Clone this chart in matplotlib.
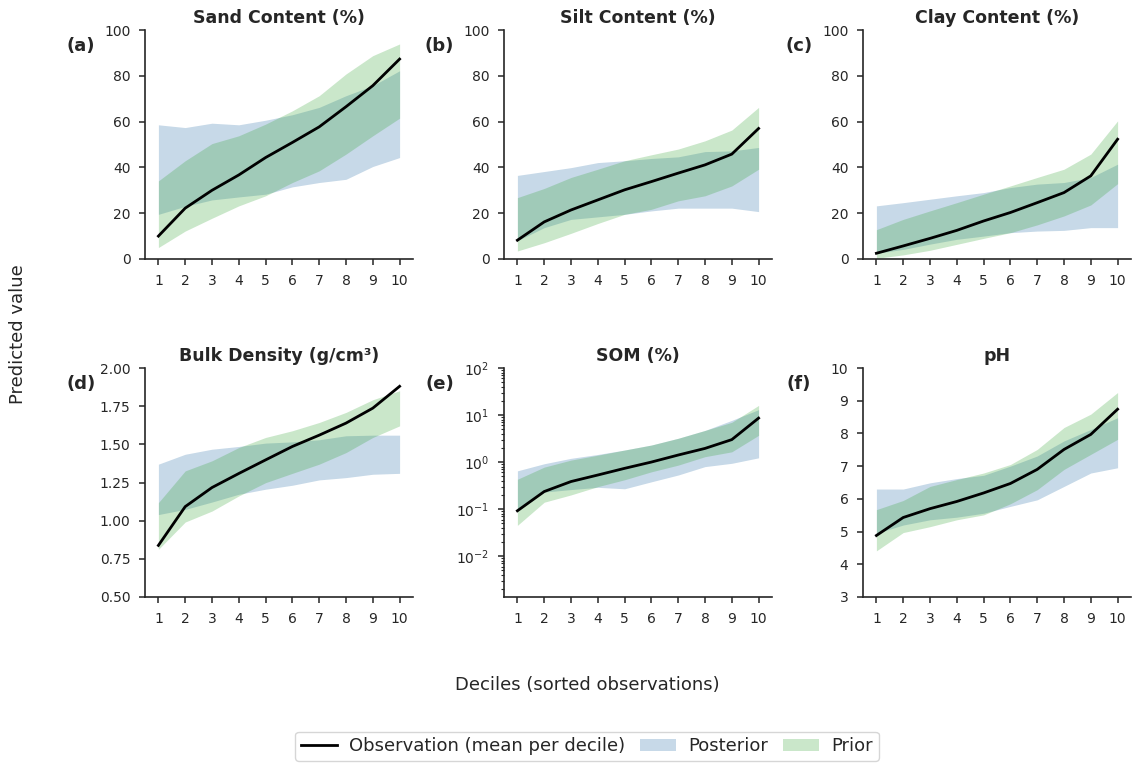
import matplotlib
matplotlib.use("Agg")
import matplotlib.pyplot as plt
from matplotlib.lines import Line2D
from matplotlib.patches import Patch
import numpy as np

deciles = list(range(1, 11))

titles = ["Sand Content (%)", "Silt Content (%)", "Clay Content (%)",
          "Bulk Density (g/cm³)", "SOM (%)", "pH"]
panel_labels = ["(a)", "(b)", "(c)", "(d)", "(e)", "(f)"]

obs_a = [10, 22.2, 30, 36.7, 44.3, 50.9, 57.7, 66.5, 75.7, 87.3]
post_a_lo = [19.5, 23, 25.8, 27.1, 28.3, 31.5, 33.4, 34.8, 40.4, 44.3]
post_a_hi = [58.6, 57.4, 59.3, 58.6, 60.6, 63, 66.2, 71.3, 75.7, 82.2]
prior_a_lo = [5, 12.2, 17.8, 23.2, 27.6, 33.4, 38.5, 45.8, 53.8, 61.5]
prior_a_hi = [34.1, 42.9, 50.4, 53.8, 58.9, 64.7, 71.3, 80.8, 88.8, 93.9]

obs_b = [8.2, 16.2, 21.4, 25.8, 30.2, 33.8, 37.5, 41.1, 45.8, 57]
post_b_lo = [8, 13.7, 17.3, 18.4, 19.5, 21, 22.2, 22.2, 22.2, 20.7]
post_b_hi = [36.5, 38.2, 39.9, 42.1, 42.9, 43.9, 44.6, 46.9, 47.2, 48.7]
prior_b_lo = [3.5, 7.1, 11.2, 15.5, 19.5, 21.7, 25.4, 27.6, 31.9, 39.2]
prior_b_hi = [26.8, 30.8, 35.6, 39.2, 42.9, 45.5, 48, 51.6, 56.3, 66.2]

obs_c = [2.5, 5.7, 9, 12.5, 16.6, 20.3, 24.6, 29, 36.3, 52.3]
post_c_lo = [2.5, 4.2, 6.5, 8.6, 10, 11.5, 12.2, 12.5, 13.7, 13.7]
post_c_hi = [23.2, 24.6, 26.1, 27.6, 29, 31.2, 32.7, 33.4, 35.6, 41.4]
prior_c_lo = [0.3, 1.8, 3.8, 6.4, 9, 11.5, 14.9, 18.8, 23.6, 32.9]
prior_c_hi = [12.8, 17.3, 21, 24.6, 28.3, 31.9, 35.6, 39.2, 45.8, 60.3]

obs_d = [0.838, 1.092, 1.217, 1.309, 1.398, 1.486, 1.56, 1.639, 1.737, 1.88]
post_d_lo = [1.04, 1.074, 1.122, 1.173, 1.206, 1.232, 1.267, 1.282, 1.304, 1.31]
post_d_hi = [1.37, 1.435, 1.468, 1.486, 1.508, 1.516, 1.53, 1.556, 1.56, 1.56]
prior_d_lo = [0.812, 0.991, 1.063, 1.162, 1.249, 1.31, 1.37, 1.446, 1.545, 1.621]
prior_d_hi = [1.118, 1.326, 1.392, 1.479, 1.545, 1.589, 1.643, 1.709, 1.792, 1.851]

obs_e = [0.092, 0.236, 0.385, 0.53, 0.735, 1.0, 1.41, 1.95, 3.0, 8.6]
post_e_lo = [0.09, 0.23, 0.26, 0.29, 0.27, 0.38, 0.53, 0.8, 0.94, 1.23]
post_e_hi = [0.65, 0.92, 1.2, 1.45, 1.8, 2.3, 3.2, 4.7, 7.7, 13]
prior_e_lo = [0.045, 0.14, 0.2, 0.30, 0.42, 0.62, 0.86, 1.3, 1.65, 3.7]
prior_e_hi = [0.43, 0.78, 1.1, 1.4, 1.8, 2.3, 3.2, 4.7, 7, 16]

obs_f = [4.88, 5.43, 5.7, 5.92, 6.18, 6.47, 6.9, 7.51, 7.97, 8.74]
post_f_lo = [4.95, 5.2, 5.36, 5.44, 5.56, 5.77, 5.97, 6.38, 6.79, 6.95]
post_f_hi = [6.3, 6.3, 6.49, 6.62, 6.72, 7.0, 7.31, 7.77, 8.12, 8.48]
prior_f_lo = [4.41, 4.97, 5.15, 5.36, 5.51, 5.85, 6.28, 6.9, 7.36, 7.82]
prior_f_hi = [5.67, 5.95, 6.38, 6.59, 6.79, 7.05, 7.51, 8.18, 8.59, 9.25]

panels = [
    (obs_a, post_a_lo, post_a_hi, prior_a_lo, prior_a_hi),
    (obs_b, post_b_lo, post_b_hi, prior_b_lo, prior_b_hi),
    (obs_c, post_c_lo, post_c_hi, prior_c_lo, prior_c_hi),
    (obs_d, post_d_lo, post_d_hi, prior_d_lo, prior_d_hi),
    (obs_e, post_e_lo, post_e_hi, prior_e_lo, prior_e_hi),
    (obs_f, post_f_lo, post_f_hi, prior_f_lo, prior_f_hi),
]

post_color = "steelblue"
post_alpha = 0.3
prior_color = "tab:green"
prior_alpha = 0.25
text_color = "#262626"

plt.rcParams.update({
    "font.family": "DejaVu Sans",
    "text.color": text_color,
    "axes.labelcolor": text_color,
    "xtick.color": text_color,
    "ytick.color": text_color,
    "axes.edgecolor": text_color,
})

W, H = 1133, 763
fig = plt.figure(figsize=(W / 100, H / 100), dpi=100)

lefts = [145, 504, 863]
tops = [30, 368]
aw, ah = 268, 229

axes = []
for r in range(2):
    for c in range(3):
        l = lefts[c] / W
        b = 1 - (tops[r] + ah) / H
        ax = fig.add_axes([l, b, aw / W, ah / H])
        axes.append(ax)

for i, (ax, data) in enumerate(zip(axes, panels)):
    obs, plo, phi, prlo, prhi = data
    ax.fill_between(deciles, plo, phi, color=post_color, alpha=post_alpha, lw=0)
    ax.fill_between(deciles, prlo, prhi, color=prior_color, alpha=prior_alpha, lw=0)
    ax.plot(deciles, obs, color="black", lw=2)
    ax.set_xlim(0.5, 10.5)
    ax.set_xticks(deciles)
    ax.spines["top"].set_visible(False)
    ax.spines["right"].set_visible(False)
    ax.spines["left"].set_linewidth(1.2)
    ax.spines["bottom"].set_linewidth(1.2)
    ax.tick_params(labelsize=10, length=4.5, width=1.1, direction="out", pad=6)
    ax.tick_params(which="minor", length=2.5, width=0.8)
    ax.set_title(titles[i], fontsize=12.5, fontweight="bold", pad=5)
    ax.text(-0.24, 0.932, panel_labels[i], transform=ax.transAxes,
            fontsize=13, fontweight="bold", ha="center", va="center")
    if i < 3:
        ax.set_ylim(0, 100)
        ax.set_yticks([0, 20, 40, 60, 80, 100])
    elif i == 3:
        ax.set_ylim(0.5, 2.0)
        ax.set_yticks([0.5, 0.75, 1.0, 1.25, 1.5, 1.75, 2.0])
        ax.set_yticklabels(["0.50", "0.75", "1.00", "1.25", "1.50", "1.75", "2.00"])
    elif i == 4:
        ax.set_yscale("log")
        ax.set_ylim(1.35e-3, 100)
        ax.set_yticks([1e-2, 1e-1, 1, 10, 100])
    else:
        ax.set_ylim(3, 10)
        ax.set_yticks(range(3, 11))

fig.text(0.016, 0.562, "Predicted value", rotation=90, ha="center", va="center",
         fontsize=13)
fig.text(0.518, 0.102, "Deciles (sorted observations)", ha="center", va="center",
         fontsize=13)

handles = [
    Line2D([0], [0], color="black", lw=2, label="Observation (mean per decile)"),
    Patch(facecolor=post_color, alpha=post_alpha, edgecolor="none", label="Posterior"),
    Patch(facecolor=prior_color, alpha=prior_alpha, edgecolor="none", label="Prior"),
]
fig.legend(handles=handles, loc="center", bbox_to_anchor=(0.518, 0.022), ncol=3,
           fontsize=13, frameon=True, handlelength=2.0, columnspacing=0.8,
           handletextpad=0.7, borderpad=0.3)

fig.savefig("out.png", dpi=100)
